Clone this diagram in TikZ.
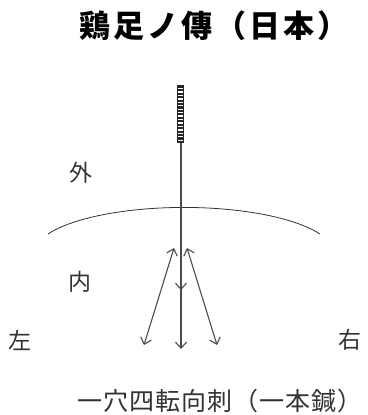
\documentclass[tikz,border=0pt]{standalone}
\usepackage{fontspec}
\newfontfamily\jp{Noto Sans CJK JP}
\usetikzlibrary{arrows.meta}
\begin{document}
\begin{tikzpicture}[x=1pt,y=-1pt,
  ln/.style={draw=black!70, line width=1.1pt},
  tipa/.style={-{Straight Barb[length=6pt,width=11pt]}},
  tipb/.style={{Straight Barb[length=6pt,width=11pt]}-{Straight Barb[length=6pt,width=11pt]}},
  lbl/.style={font=\jp\fontsize{23}{23}\selectfont, text=black!80, inner sep=0pt}]
\useasboundingbox (0,0) rectangle (367,415);
% title
\node[anchor=west, inner sep=0pt, font=\jp\bfseries\fontsize{31}{31}\selectfont\addfontfeature{LetterSpace=10}] (title) at (79,26) {鶏足ノ傳（日本）};
% handle
\fill[black!85] (177,85) rectangle (184,143);
\foreach \i in {0,...,15} \draw[white, line width=1.3pt] (178.2,88.5+3.45*\i) -- (182.8,88.5+3.45*\i);
\coordinate (hb) at (181,143);
% skin arc
\draw[black!80, line width=0.8pt] (48,234) arc[start angle=-155, end angle=-25, x radius=150, y radius=46];
% shaft
\coordinate (ce) at (181,349);
\coordinate (cm1) at (181,260);
\coordinate (cm2) at (181,290);
\draw[ln, tipa] (hb) -- (ce);
\draw[ln, tipa] (cm1) -- (cm2);
% side needles
\coordinate (lt) at (174,248);
\coordinate (lb) at (144,345);
\coordinate (rt) at (187,248);
\coordinate (rb) at (217,345);
\draw[ln, tipb] (lt) -- (lb);
\draw[ln, tipb] (rt) -- (rb);
% labels
\node[lbl] (out) at (81,173) {外};
\node[lbl] (in) at (80,282) {内};
\node[lbl] (left) at (20,340) {左};
\node[lbl] (right) at (350,340) {右};
\node[anchor=west, inner sep=0pt, font=\jp\fontsize{25}{25}\selectfont\addfontfeature{LetterSpace=4}, text=black!80] (cap) at (77,401) {一穴四転向刺（一本鍼）};
\end{tikzpicture}
\end{document}
